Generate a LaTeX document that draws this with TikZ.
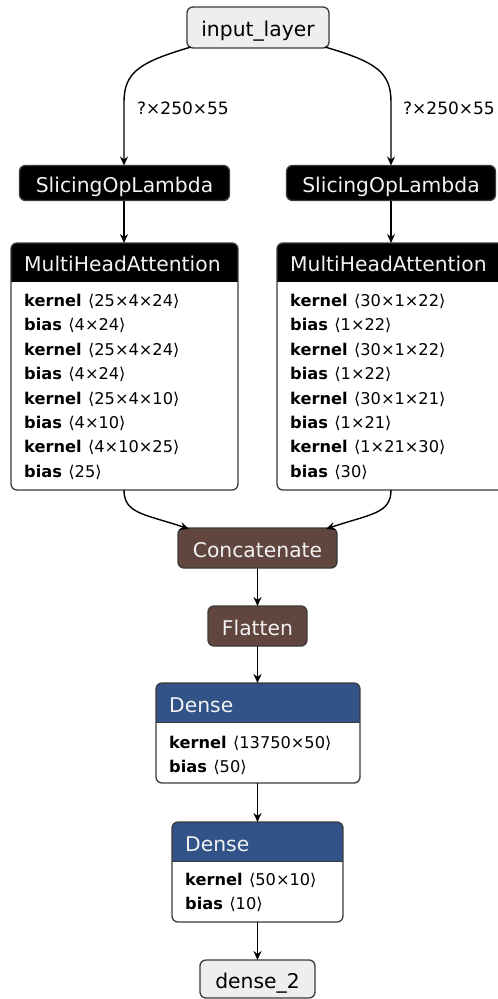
\documentclass[tikz,border=0pt]{standalone}
\usepackage{fontspec}
\setmainfont{DejaVu Sans}
\usetikzlibrary{arrows.meta}

\definecolor{edgegray}{HTML}{3A3A3A}
\definecolor{inputfill}{HTML}{EEEEEE}
\definecolor{shapebrown}{RGB}{96,70,62}
\definecolor{layerblue}{RGB}{49,83,135}
\definecolor{headtext}{HTML}{F2F2F2}

\tikzset{
  conn/.style={draw=black, line width=1.4pt,
    -{Stealth[length=9pt,width=8pt,inset=3pt]}},
  border/.style={draw=edgegray, line width=1.3pt, rounded corners=6pt},
  boxnode/.style={rectangle, inner sep=0pt, outer sep=0pt, rounded corners=6pt},
  iobox/.style={boxnode, border, fill=inputfill, font=\fontsize{20.3}{20}\selectfont,
    text height=18.2pt, text depth=0pt},
  opbox/.style={boxnode, border, font=\fontsize{20.3}{20}\selectfont,
    text=headtext, text height=18.2pt, text depth=0pt},
  headtxt/.style={anchor=west, inner sep=0pt, text=headtext,
    font=\fontsize{20.3}{20}\selectfont, text height=18.2pt, text depth=0pt},
  attr/.style={anchor=west, inner sep=0pt,
    font=\fontsize{16.2}{16}\selectfont, text height=11.8pt, text depth=0pt},
  shapelabel/.style={anchor=west, inner sep=0pt,
    font=\fontsize{17}{17}\selectfont, text height=12.4pt, text depth=0pt},
}
% attribute line: bold name, gap, shape
\newcommand\attrline[2]{\textbf{#1}\hspace{6.5pt}#2}

\begin{document}
\begin{tikzpicture}[x=1pt, y=-1pt]
\useasboundingbox (0,0) rectangle (498,999);
\clip (0,0) rectangle (498,999);

% ---------- input and slicing ops ----------
\node[iobox, minimum width=142pt, minimum height=41pt] (in) at (258,27.5) {input\_layer};

\node[opbox, fill=black, minimum width=210pt, minimum height=35pt] (sL) at (124.5,183) {SlicingOpLambda};
\node[opbox, fill=black, minimum width=209pt, minimum height=35pt] (sR) at (391,183) {SlicingOpLambda};

% ---------- attention blocks (body white, header filled) ----------
\node[boxnode, fill=white, minimum width=227pt, minimum height=247pt] (mhaL) at (124.5,366.5) {};
\node[boxnode, fill=white, minimum width=227pt, minimum height=247pt] (mhaR) at (390.5,366.5) {};

\foreach \b in {mhaL, mhaR}{
  \begin{scope}
    \clip[rounded corners=6pt] (\b.north west) rectangle (\b.south east);
    \fill[black] (\b.north west) rectangle ([yshift=-39pt]\b.north east);
  \end{scope}
  \draw[border] (\b.north west) rectangle (\b.south east);
}

\node[headtxt] (mhaLt) at (24,262.5) {MultiHeadAttention};
\node[headtxt] (mhaRt) at (290,262.5) {MultiHeadAttention};

\foreach \k/\v [count=\i from 0] in {
  kernel/⟨25×4×24⟩, bias/⟨4×24⟩, kernel/⟨25×4×24⟩, bias/⟨4×24⟩,
  kernel/⟨25×4×10⟩, bias/⟨4×10⟩, kernel/⟨4×10×25⟩, bias/⟨25⟩}{
  \node[attr] (aL\i) at (24,{300.5+24.4*\i}) {\attrline{\k}{\v}};
}
\foreach \k/\v [count=\i from 0] in {
  kernel/⟨30×1×22⟩, bias/⟨1×22⟩, kernel/⟨30×1×22⟩, bias/⟨1×22⟩,
  kernel/⟨30×1×21⟩, bias/⟨1×21⟩, kernel/⟨1×21×30⟩, bias/⟨30⟩}{
  \node[attr] (aR\i) at (290,{300.5+24.4*\i}) {\attrline{\k}{\v}};
}

% ---------- merge and reshape ----------
\node[opbox, fill=shapebrown, minimum width=159pt, minimum height=40pt] (cat) at (257.5,548) {Concatenate};
\node[opbox, fill=shapebrown, minimum width=99pt, minimum height=40pt] (flat) at (257.5,626) {Flatten};

% ---------- dense layers ----------
\node[boxnode, fill=white, minimum width=204pt, minimum height=100pt] (d1) at (258,733) {};
\node[boxnode, fill=white, minimum width=171pt, minimum height=100pt] (d2) at (257.5,872) {};

\foreach \b in {d1, d2}{
  \begin{scope}
    \clip[rounded corners=6pt] (\b.north west) rectangle (\b.south east);
    \fill[layerblue] (\b.north west) rectangle ([yshift=-39.5pt]\b.north east);
  \end{scope}
  \draw[edgegray, line width=1.1pt] ([yshift=-39.5pt]\b.north west) -- ([yshift=-39.5pt]\b.north east);
  \draw[border] (\b.north west) rectangle (\b.south east);
}

\node[headtxt] (d1t) at (169,703) {Dense};
\node[attr] (d1a) at (169,742.5) {\attrline{kernel}{⟨13750×50⟩}};
\node[attr] (d1b) at (169,766.5) {\attrline{bias}{⟨50⟩}};

\node[headtxt] (d2t) at (185,842) {Dense};
\node[attr] (d2a) at (185,880) {\attrline{kernel}{⟨50×10⟩}};
\node[attr] (d2b) at (185,904) {\attrline{bias}{⟨10⟩}};

\node[iobox, minimum width=115pt, minimum height=38pt] (out) at (257.5,979) {dense\_2};

% ---------- connectors ----------
\coordinate (inL) at (191,47);
\coordinate (inR) at (325,47);
\draw[conn] (inL) .. controls (140,62) and (124,72) .. (124,102) -- (124,165.5);
\draw[conn] (inR) .. controls (376,62) and (391,72) .. (391,102) -- (sR.north);

\node[shapelabel] (lblL) at (137,108) {?×250×55};
\node[shapelabel] (lblR) at (403,108) {?×250×55};

\draw[conn] (124,200.5) -- (mhaL.north -| 124,0);
\draw[conn] (sR.south) -- (sR.south |- mhaR.north);

\coordinate (catL) at (189,529);
\coordinate (catR) at (326,529);
\draw[conn] (mhaL.south -| 124,0) .. controls (124,514) and (145,514) .. (catL);
\draw[conn] (mhaR.south -| 391,0) .. controls (391,514) and (370,514) .. (catR);

\draw[conn] (cat) -- (flat);
\draw[conn] (flat) -- (flat |- d1.north);
\draw[conn] (flat |- d1.south) -- (flat |- d2.north);
\draw[conn] (flat |- d2.south) -- (flat |- out.north);
\end{tikzpicture}
\end{document}
